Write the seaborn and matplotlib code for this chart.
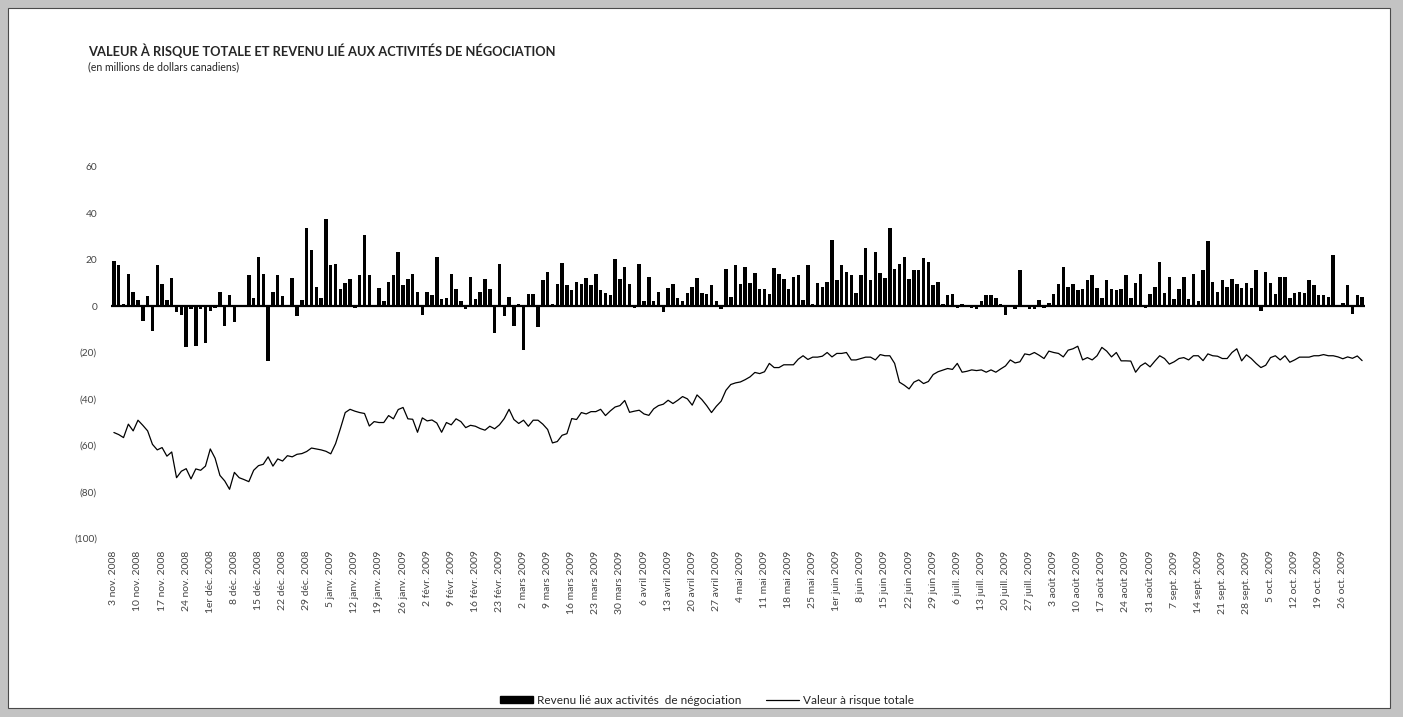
import numpy as np
import pandas as pd
import matplotlib
matplotlib.use('Agg')
import matplotlib.pyplot as plt
import seaborn as sns
from matplotlib.patches import Patch, Rectangle
from matplotlib.lines import Line2D

# Daily trading revenue (bars), in millions CAD, 3 nov. 2008 -> 30 oct. 2009
REVENU = [
    19.5, 17.6, 1.1, 14.0, 5.9, 2.6, -6.4, 4.3, -10.7, 17.6,
    9.6, 2.6, 12.3, -2.7, -3.7, -17.7, -1.4, -17.1, -1.1, -16.1,
    -2.1, -0.6, 5.9, -8.6, 4.7, -7.0, -0.5, -0.5, 13.3, 3.6,
    21.4, 14.0, -23.6, 5.9, 13.3, 4.3, 0.7, 12.3, -4.3, 2.6,
    33.7, 24.0, 8.3, 3.6, 37.4, 17.6, 18.1, 7.3, 10.0, 11.6,
    -0.9, 13.3, 30.6, 13.3, -0.4, 7.9, 2.1, 10.6, 13.3, 23.4,
    9.0, 11.7, 13.9, 6.3, -3.7, 6.3, 4.7, 21.4, 3.1, 3.6,
    13.9, 7.3, 2.0, -1.4, 12.7, 3.1, 6.3, 11.7, 7.3, -11.7,
    18.1, -4.3, 4.1, -8.6, 1.1, -18.9, 5.1, 5.1, -8.9, 11.1,
    14.9, 0.9, 9.4, 18.7, 9.0, 6.9, 10.6, 9.4, 12.1, 9.0,
    13.9, 6.9, 5.7, 4.7, 20.3, 11.7, 17.0, 9.4, -0.6, 18.1,
    2.0, 12.7, 2.0, 6.3, -2.7, 7.9, 9.4, 3.6, 2.0, 5.7,
    8.4, 12.1, 5.7, 5.1, 9.0, 2.0, -1.4, 16.0, 4.1, 17.6,
    9.4, 17.0, 10.0, 14.3, 7.3, 7.3, 5.1, 16.4, 13.9, 11.7,
    7.3, 12.7, 13.3, 2.6, 17.6, 0.9, 10.0, 8.4, 10.6, 28.4,
    11.1, 17.6, 14.9, 13.3, 5.7, 13.3, 25.1, 11.1, 23.4, 14.3,
    12.1, 33.7, 16.0, 18.1, 21.3, 11.7, 15.4, 15.4, 20.9, 19.1,
    9.0, 10.6, 1.1, 4.7, 5.1, -0.6, 1.1, -0.4, -0.9, -1.4,
    2.0, 4.7, 4.7, 3.6, 0.9, -3.9, 0.3, -1.4, 15.4, -0.4,
    -1.4, -1.4, 2.6, -0.6, 1.4, 5.1, 9.4, 17.0, 8.4, 9.4,
    6.9, 7.3, 11.1, 13.3, 7.9, 3.6, 11.1, 7.3, 6.9, 7.3,
    13.3, 3.6, 10.0, 13.9, -0.6, 5.1, 8.4, 19.1, 5.7, 12.7,
    3.0, 7.3, 12.7, 3.0, 13.9, 2.0, 15.4, 27.9, 10.6, 6.3,
    11.1, 8.4, 11.7, 9.4, 7.9, 10.0, 7.9, 15.4, -2.3, 14.9,
    10.0, 5.1, 12.7, 12.7, 3.6, 5.7, 6.3, 5.7, 11.1, 9.0,
    4.7, 4.7, 4.1, 21.9, 0.3, 1.4, 9.0, -3.5, 5.0, 4.0,
]

# Total value at risk (line), in millions CAD
VAR_TOTALE = [
    -54.5, -55.4, -56.7, -50.9, -53.8, -49.2, -51.4, -53.8, -59.6, -62.0,
    -61.0, -64.7, -62.9, -74.0, -71.2, -70.1, -74.5, -70.2, -70.8, -69.0,
    -61.6, -65.6, -73.0, -75.4, -79.0, -71.7, -74.0, -74.8, -75.7, -70.8,
    -68.8, -68.2, -65.0, -69.0, -65.9, -66.8, -64.5, -65.0, -63.9, -63.6,
    -62.7, -61.2, -61.6, -62.0, -62.6, -63.7, -59.3, -52.8, -45.9, -44.5,
    -45.3, -45.9, -46.3, -51.7, -49.8, -50.2, -50.2, -47.2, -48.6, -44.6,
    -43.7, -48.6, -48.8, -54.4, -48.2, -49.5, -49.1, -50.4, -54.4, -50.2,
    -51.2, -48.6, -49.8, -52.4, -51.4, -51.8, -52.8, -53.5, -51.8, -52.9,
    -51.2, -48.5, -44.5, -48.9, -50.6, -49.2, -51.8, -49.2, -49.2, -50.9,
    -53.2, -59.0, -58.4, -55.7, -55.0, -48.5, -48.9, -45.9, -46.5, -45.5,
    -45.5, -44.5, -47.2, -45.2, -43.5, -42.9, -40.7, -45.8, -45.3, -44.9,
    -46.5, -47.1, -44.3, -42.9, -42.3, -40.6, -42.0, -40.6, -39.0, -40.0,
    -42.7, -38.3, -40.3, -42.9, -45.9, -43.2, -41.0, -36.3, -33.8, -33.1,
    -32.7, -31.7, -30.5, -28.6, -29.1, -28.3, -24.7, -26.5, -26.5, -25.3,
    -25.3, -25.3, -22.9, -21.4, -23.0, -22.0, -22.0, -21.6, -20.0, -21.9,
    -20.4, -20.4, -20.0, -23.2, -23.2, -22.6, -22.0, -22.0, -23.2, -20.9,
    -21.4, -21.4, -24.7, -32.8, -34.1, -35.7, -32.8, -31.8, -33.4, -32.5,
    -29.5, -28.3, -27.6, -26.9, -27.3, -24.7, -28.5, -28.1, -27.5, -27.8,
    -27.5, -28.5, -27.5, -28.5, -27.1, -25.8, -23.2, -24.5, -24.0, -20.6,
    -21.0, -20.0, -21.2, -22.6, -19.4, -20.0, -20.4, -21.9, -19.0, -18.4,
    -17.3, -23.2, -22.2, -23.2, -21.4, -17.8, -19.4, -21.9, -20.0, -23.6,
    -23.6, -23.7, -28.5, -25.8, -24.5, -26.2, -23.7, -21.4, -22.6, -25.0,
    -24.0, -22.6, -22.2, -23.2, -21.4, -21.4, -23.5, -20.6, -21.4, -21.6,
    -22.6, -22.6, -20.0, -18.4, -23.6, -21.0, -22.6, -24.7, -26.5, -25.5,
    -22.2, -21.4, -23.2, -21.4, -24.2, -23.2, -22.0, -22.0, -22.0, -21.4,
    -21.4, -20.9, -21.4, -21.4, -21.9, -22.7, -21.9, -22.5, -21.5, -23.5,
]

# Weekly tick labels (every 5th trading day)
WEEK_LABELS = [
    '3 nov. 2008', '10 nov. 2008', '17 nov. 2008', '24 nov. 2008',
    '1er déc. 2008', '8 déc. 2008', '15 déc. 2008', '22 déc. 2008',
    '29 déc. 2008', '5 janv. 2009', '12 janv. 2009', '19 janv. 2009',
    '26 janv. 2009', '2 févr. 2009', '9 févr. 2009', '16 févr. 2009',
    '23 févr. 2009', '2 mars 2009', '9 mars 2009', '16 mars 2009',
    '23 mars 2009', '30 mars 2009', '6 avril 2009', '13 avril 2009',
    '20 avril 2009', '27 avril 2009', '4 mai 2009', '11 mai 2009',
    '18 mai 2009', '25 mai 2009', '1er juin 2009', '8 juin 2009',
    '15 juin 2009', '22 juin 2009', '29 juin 2009', '6 juill. 2009',
    '13 juill. 2009', '20 juill. 2009', '27 juill. 2009', '3 août 2009',
    '10 août 2009', '17 août 2009', '24 août 2009', '31 août 2009',
    '7 sept. 2009', '14 sept. 2009', '21 sept. 2009', '28 sept. 2009',
    '5 oct. 2009', '12 oct. 2009', '19 oct. 2009', '26 oct. 2009',
]

Y_TICKS = [-100, -80, -60, -40, -20, 0, 20, 40, 60]

TITLE = 'VALEUR À RISQUE TOTALE ET REVENU LIÉ AUX ACTIVITÉS DE NÉGOCIATION'
SUBTITLE = '(en millions de dollars canadiens)'
LEGEND_BARS = 'Revenu lié aux activités  de négociation'
LEGEND_LINE = 'Valeur à risque totale'


def fmt_tick(v):
    """Accounting style: negatives in parentheses."""
    return f'({abs(v)})' if v < 0 else str(v)


def main():
    sns.set_style('white')
    plt.rcParams['font.family'] = ['Lato', 'DejaVu Sans']

    df = pd.DataFrame({'revenu': REVENU, 'var': VAR_TOTALE})
    df['jour'] = np.arange(len(df))

    W, H = 1403, 717
    fig = plt.figure(figsize=(W / 100, H / 100), dpi=100)
    fig.patch.set_facecolor('#c3c3c3')
    # white page panel with a thin dark border, kept behind the axes
    panel = Rectangle((8 / W, 9 / H), 1382 / W, 700 / H,
                      transform=fig.transFigure, facecolor='white',
                      edgecolor='#4a4a4a', linewidth=0.8, zorder=-10)
    fig.patches.append(panel)

    ax = fig.add_axes([111 / W, 1 - 538 / H, 1254 / W, (538 - 167) / H])
    ax.set_zorder(5)
    ax.set_facecolor('none')

    sns.barplot(data=df, x='jour', y='revenu', color='black', saturation=1,
                width=0.72, linewidth=0, errorbar=None, ax=ax)
    sns.lineplot(data=df, x='jour', y='var', color='black', linewidth=0.9, ax=ax)
    ax.axhline(0, color='black', linewidth=1.6, zorder=3)

    ax.set_xlim(-0.6, len(df) - 0.4)
    ax.set_ylim(-100, 60)
    ax.set_yticks(Y_TICKS)
    ax.set_yticklabels([fmt_tick(v) for v in Y_TICKS], fontsize=7.3, color='#444444')
    ax.set_xticks(np.arange(0, len(df), 5))
    ax.set_xticklabels(WEEK_LABELS, rotation=90, fontsize=7.5, color='#444444')
    ax.tick_params(axis='both', length=0)
    ax.tick_params(axis='x', pad=9)
    ax.tick_params(axis='y', pad=10)
    ax.set_xlabel('')
    ax.set_ylabel('')
    sns.despine(ax=ax, left=True, bottom=True)

    fig.text(88 / W, 1 - 51 / H, TITLE, fontsize=9.3, fontweight='bold', va='center')
    fig.text(88 / W, 1 - 67 / H, SUBTITLE, fontsize=7.6, va='center')

    handles = [Patch(facecolor='black', edgecolor='black'),
               Line2D([], [], color='black', linewidth=0.9)]
    fig.legend(handles, [LEGEND_BARS, LEGEND_LINE], loc='center',
               bbox_to_anchor=(707 / W, 1 - 700 / H), ncol=2, frameon=False,
               fontsize=8.5, handlelength=2.8, handleheight=0.5,
               handletextpad=0.35, columnspacing=2.1)

    fig.savefig('out.png', dpi=100, facecolor=fig.get_facecolor())
    plt.close(fig)


if __name__ == '__main__':
    main()
